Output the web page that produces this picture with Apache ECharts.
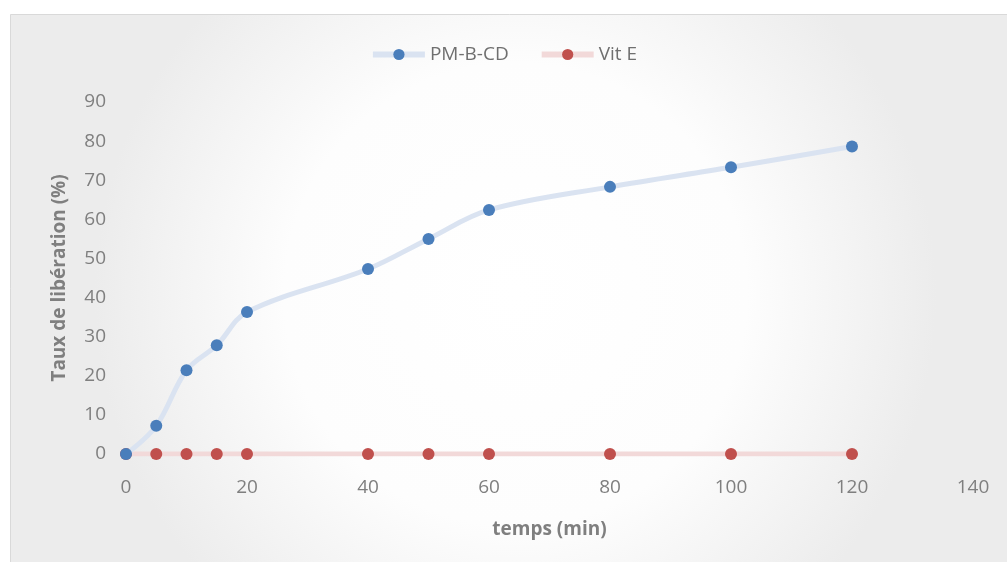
<!DOCTYPE html>
<html><head><meta charset="utf-8">
<script src="https://cdn.jsdelivr.net/npm/echarts@6/dist/echarts.min.js"></script>
<style>html,body{margin:0;padding:0;background:#fff}#c{width:1007px;height:562px}</style>
</head><body><div id="c"></div>
<script>
const times = [0, 5, 10, 15, 20, 40, 50, 60, 80, 100, 120];
const pmbcd = [0, 7.2, 21.4, 27.8, 36.3, 47.3, 55.0, 62.4, 68.3, 73.3, 78.6];
const vite = [0, 0, 0, 0, 0, 0, 0, 0, 0, 0, 0];
const seriesNames = ['PM-B-CD', 'Vit E'];
const xName = 'temps (min)';
const yName = 'Taux de libération (%)';

const font = "'Open Sans', 'Liberation Sans', sans-serif";
const chart = echarts.init(document.getElementById('c'), null, {renderer: 'canvas'});
chart.setOption({
  backgroundColor: '#ffffff',
  animation: false,
  graphic: [{
    type: 'rect', z: -10, silent: true,
    shape: {x: 10.5, y: 14.5, width: 1010, height: 560},
    style: {
      fill: new echarts.graphic.RadialGradient(0.5, 0.5, 0.75, [
        {offset: 0, color: '#ffffff'}, {offset: 0.55, color: '#fdfdfd'}, {offset: 1, color: '#ececec'}
      ]),
      stroke: '#d9d9d9', lineWidth: 1
    }
  }],
  legend: {
    top: 40, left: 'center', itemGap: 30, itemWidth: 52, itemHeight: 14,
    textStyle: {color: '#6f6f6f', fontSize: 19, fontFamily: font},
    lineStyle: {width: 6},
    data: seriesNames
  },
  grid: {left: 126, right: 34, top: 102, bottom: 108},
  xAxis: {
    type: 'value', min: 0, max: 140, interval: 20,
    name: xName, nameLocation: 'middle', nameGap: 66,
    nameTextStyle: {color: '#7f7f7f', fontSize: 19, fontWeight: 'bold', fontFamily: font},
    axisLine: {show: false}, axisTick: {show: false}, splitLine: {show: false},
    axisLabel: {color: '#7f7f7f', fontSize: 19, margin: 24, fontFamily: font}
  },
  yAxis: {
    type: 'value', min: 0, max: 90, interval: 10,
    name: yName, nameLocation: 'middle', nameGap: 57,
    nameTextStyle: {color: '#7f7f7f', fontSize: 19, fontWeight: 'bold', fontFamily: font},
    axisLine: {show: false}, axisTick: {show: false}, splitLine: {show: false},
    axisLabel: {color: '#7f7f7f', fontSize: 19, margin: 20, fontFamily: font}
  },
  series: [
    {
      name: seriesNames[0], type: 'line', smooth: 0.35,
      data: times.map((t, i) => [t, pmbcd[i]]),
      symbol: 'circle', symbolSize: 12,
      itemStyle: {color: '#4a7ebb'},
      lineStyle: {color: '#dae3f1', width: 5},
      z: 3
    },
    {
      name: seriesNames[1], type: 'line', smooth: 0.35,
      data: times.map((t, i) => [t, vite[i]]),
      symbol: 'circle', symbolSize: 12,
      itemStyle: {color: '#c0504d'},
      lineStyle: {color: '#f2d9d9', width: 5},
      z: 2
    }
  ]
});
</script></body></html>
